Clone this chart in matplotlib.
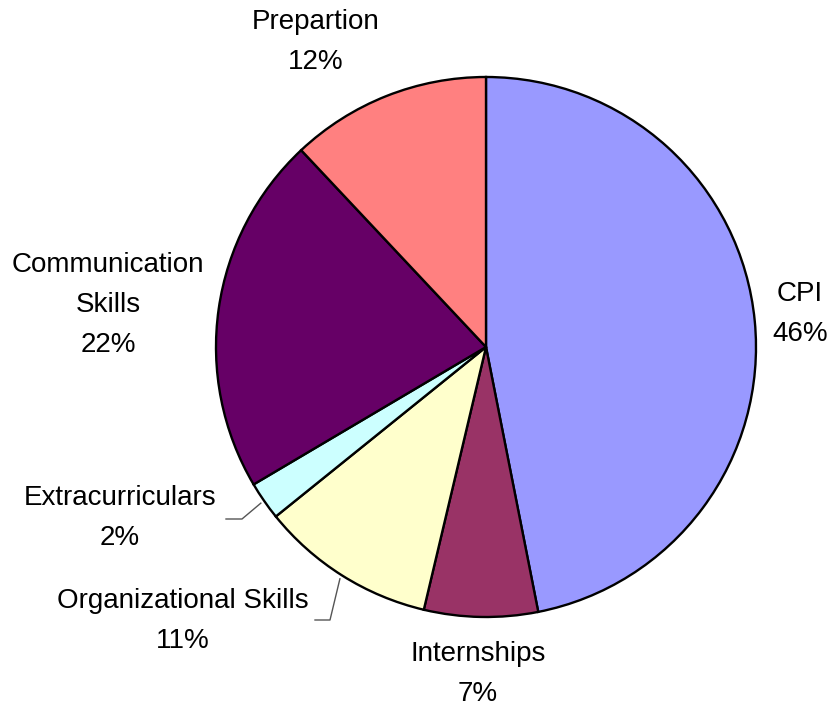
import numpy as np
import matplotlib
matplotlib.use("Agg")
import matplotlib.pyplot as plt

categories = ["CPI", "Internships", "Organizational Skills", "Extracurriculars",
              "Communication Skills", "Prepartion"]
values = [46.9, 6.8, 10.5, 2.3, 21.5, 12.0]
pct_labels = ["46%", "7%", "11%", "2%", "22%", "12%"]
label_text = ["CPI", "Internships", "Organizational Skills", "Extracurriculars",
              "Communication\nSkills", "Prepartion"]
colors = ["#9999FF", "#993366", "#FFFFCC", "#CCFFFF", "#660066", "#FF8080"]

W, H = 830, 708
fig = plt.figure(figsize=(W / 100, H / 100), dpi=100)
ax = fig.add_axes([0, 0, 1, 1])

cx, cy, R = 486, H - 347, 270
wedges, _ = ax.pie(values, colors=colors, startangle=90, counterclock=False,
                   center=(cx, cy), radius=R, frame=True,
                   wedgeprops=dict(edgecolor="black", linewidth=1.7))
ax.set_xlim(0, W)
ax.set_ylim(0, H)
ax.set_aspect("equal")
ax.axis("off")

# label positions (pixel coords, y from top)
label_pos = {
    "CPI": (800, 314),
    "Internships": (478, 674),
    "Organizational Skills": (183, 621),
    "Extracurriculars": (120, 518),
    "Communication Skills": (108, 305),
    "Prepartion": (316, 42),
}
font = dict(family=["Liberation Sans", "DejaVu Sans"], fontsize=20,
            color="black", ha="center", va="center", linespacing=1.72)
for cat, txt, pct in zip(categories, label_text, pct_labels):
    x, y = label_pos[cat]
    ax.text(x, H - y, f"{txt}\n{pct}", **font)

# leader lines
leaders = {
    "Extracurriculars": [(242, 519), (226, 519)],
    "Organizational Skills": [(330, 620), (315, 620)],
}
cum = np.cumsum([0] + values)
total = sum(values)
for i, cat in enumerate(categories):
    if cat in leaders:
        mid = (cum[i] + cum[i + 1]) / 2 / total * 360
        ang = np.deg2rad(90 - mid)
        sx = cx + (R + 4) * np.cos(ang)
        sy = cy + (R + 4) * np.sin(ang)
        pts = [(sx, sy)] + [(px, H - py) for px, py in leaders[cat]]
        xs, ys = zip(*pts)
        ax.plot(xs, ys, color="#555555", lw=1.0)

fig.savefig("out.png", dpi=100)
